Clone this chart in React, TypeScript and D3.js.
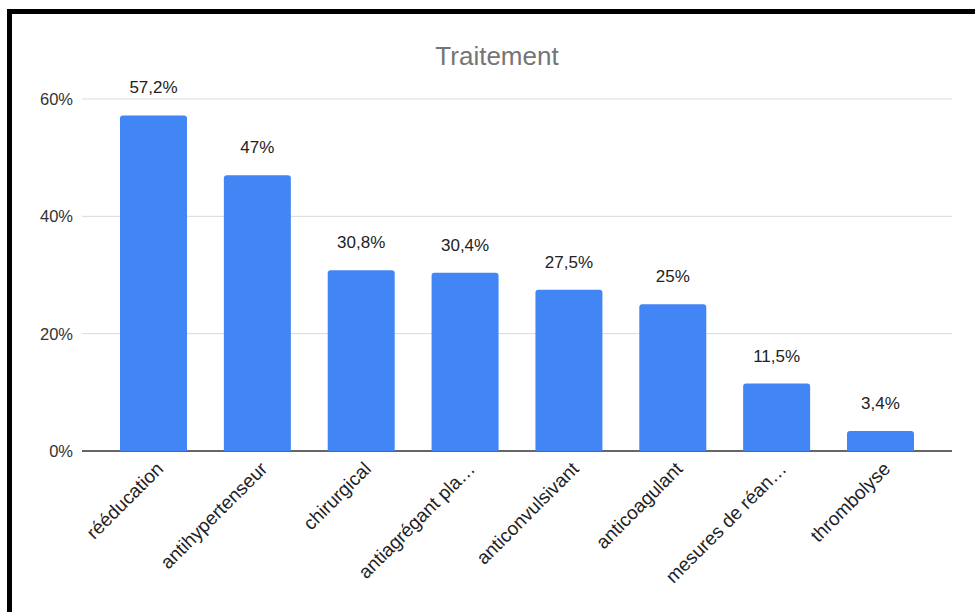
import React from "react";
import * as d3 from "d3";

const title = "Traitement";
const categories = [
  "rééducation",
  "antihypertenseur",
  "chirurgical",
  "antiagrégant pla…",
  "anticonvulsivant",
  "anticoagulant",
  "mesures de réan…",
  "thrombolyse",
];
const values = [57.2, 47, 30.8, 30.4, 27.5, 25, 11.5, 3.4];
const yTicks = [0, 20, 40, 60];

const W = 975;
const H = 612;
const FONT = "'Liberation Sans', Arial, Helvetica, sans-serif";

const fmt = (v: number) => String(v).replace(".", ",") + "%";

export default function App() {
  const x = d3
    .scaleBand<string>()
    .domain(categories)
    .range([82, 952])
    .paddingInner(0.355)
    .paddingOuter(0.366);
  const y = d3.scaleLinear().domain([0, 60]).range([451, 99]);
  const bw = x.bandwidth();
  const r = 3;

  const barPath = (x0: number, y0: number, w: number, h: number) => {
    const rr = Math.min(r, h);
    return `M${x0},${y0 + h}V${y0 + rr}Q${x0},${y0} ${x0 + rr},${y0}H${x0 + w - rr}Q${x0 + w},${y0} ${x0 + w},${y0 + rr}V${y0 + h}Z`;
  };

  return (
    <svg
      width={W}
      height={H}
      style={{ position: "absolute", left: 0, top: 0, background: "#fff" }}
      fontFamily={FONT}
    >
      <rect x={0} y={0} width={W} height={H} fill="#fff" />
      {/* frame */}
      <rect x={7} y={9} width={W - 7} height={5} fill="#000" />
      <rect x={7} y={9} width={5} height={H - 9} fill="#000" />

      <text x={497} y={65} textAnchor="middle" fontSize={26} fill="#757575">
        {title}
      </text>

      {yTicks.map((t) => (
        <g key={t}>
          <line
            x1={82}
            x2={952}
            y1={y(t)}
            y2={y(t)}
            stroke={t === 0 ? "#333" : "#d9d9d9"}
            strokeWidth={t === 0 ? 1.3 : 1}
          />
          <text
            x={73}
            y={y(t) + 6}
            textAnchor="end"
            fontSize={16.5}
            fill="#333"
          >
            {t}%
          </text>
        </g>
      ))}

      {categories.map((c, i) => {
        const x0 = x(c)!;
        const top = y(values[i]);
        const cx = x0 + bw / 2;
        return (
          <g key={c}>
            <path d={barPath(x0, top, bw, y(0) - top)} fill="#4285F4" />
            <text
              x={cx}
              y={top - 22}
              textAnchor="middle"
              fontSize={17}
              fill="#222"
            >
              {fmt(values[i])}
            </text>
            <text
              transform={`translate(${cx + 11},${y(0) + 19}) rotate(-45)`}
              textAnchor="end"
              fontSize={19}
              fill="#222"
            >
              {c}
            </text>
          </g>
        );
      })}
    </svg>
  );
}
